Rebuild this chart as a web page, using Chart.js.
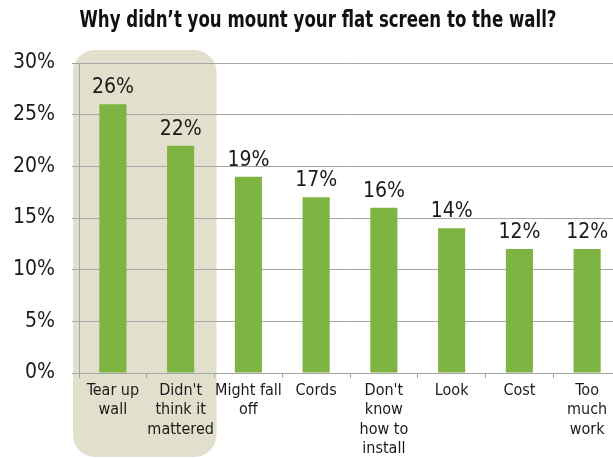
<!DOCTYPE html>
<html>
<head>
<meta charset="utf-8">
<script src="https://cdn.jsdelivr.net/npm/chart.js@4/dist/chart.umd.min.js"></script>
<style>
html,body{margin:0;padding:0;background:#fff;overflow:hidden;width:613px;height:458px;}
#wrap{width:623px;height:458px;position:relative;}
</style>
</head>
<body>
<div id="wrap"><canvas id="c" width="623" height="458"></canvas></div>
<script>
const title = "Why didn\u2019t you mount your flat screen to the wall?";
const categories = [
  ["Tear up","wall"],
  ["Didn't","think it","mattered"],
  ["Might fall","off"],
  ["Cords"],
  ["Don't","know","how to","install"],
  ["Look"],
  ["Cost"],
  ["Too","much","work"]
];
const values = [26, 22, 19, 17, 16, 14, 12, 12];
const yTicks = [0, 5, 10, 15, 20, 25, 30];
const highlighted = [0, 1];

const FONT = '"Liberation Sans Narrow", "DejaVu Sans Condensed", "Liberation Sans", sans-serif';

const extras = {
  id: 'extras',
  beforeDraw(chart) {
    const ctx = chart.ctx;
    const xs = chart.scales.x;
    const cw = (xs.getPixelForValue(1) - xs.getPixelForValue(0));
    const l = xs.getPixelForValue(highlighted[0]) - cw/2 - 6;
    const r = xs.getPixelForValue(highlighted[highlighted.length-1]) + cw/2 + 2;
    const t = 50, b = 457, rad = 22;
    ctx.save();
    ctx.fillStyle = '#e2dfcc';
    ctx.beginPath();
    ctx.roundRect(l, t, r - l, b - t, rad);
    ctx.fill();
    ctx.restore();
  },
  afterDraw(chart) {
    const ctx = chart.ctx;
    const xs = chart.scales.x, ys = chart.scales.y;
    ctx.save();
    // extend gridlines to the right edge
    ctx.strokeStyle = '#a6a6a6';
    ctx.lineWidth = 1;
    yTicks.forEach(v => {
      const y = Math.round(ys.getPixelForValue(v)) + 0.5;
      ctx.beginPath(); ctx.moveTo(chart.chartArea.right, y); ctx.lineTo(chart.width, y); ctx.stroke();
    });
    // small extension of the y axis line below the baseline
    const x0 = chart.chartArea.left;
    ctx.beginPath(); ctx.moveTo(Math.round(x0) + 0.5, chart.chartArea.bottom); ctx.lineTo(Math.round(x0) + 0.5, chart.chartArea.bottom + 5); ctx.stroke();
    // data labels
    ctx.fillStyle = '#1a1a1a';
    ctx.font = '21px ' + FONT;
    ctx.textAlign = 'center';
    ctx.textBaseline = 'alphabetic';
    values.forEach((v, i) => {
      ctx.fillText(v + '%', xs.getPixelForValue(i), ys.getPixelForValue(v) - 11);
    });
    // title
    ctx.font = 'bold 23px ' + FONT;
    ctx.fillStyle = '#111';
    ctx.textBaseline = 'middle';
    const w = ctx.measureText(title).width;
    const sx = 477 / w;
    ctx.translate(318, 21);
    ctx.scale(sx, 1);
    ctx.fillText(title, 0, 0);
    ctx.restore();
  }
};

new Chart(document.getElementById('c'), {
  type: 'bar',
  data: {
    labels: categories,
    datasets: [{
      data: values,
      backgroundColor: '#7db442',
      borderWidth: 0,
      barPercentage: 0.4,
      categoryPercentage: 1.0
    }]
  },
  options: {
    responsive: false,
    animation: false,
    devicePixelRatio: 1,
    layout: { padding: { top: 63, right: 2, left: 0, bottom: 0 } },
    plugins: { legend: { display: false }, title: { display: false }, tooltip: { enabled: false } },
    scales: {
      x: {
        offset: true,
        grid: { offset: true, drawOnChartArea: false, drawTicks: true, tickLength: 5, color: '#a6a6a6' },
        border: { display: true, color: '#a6a6a6' },
        ticks: { color: '#1a1a1a', font: { family: FONT, size: 16, lineHeight: 1.22 }, padding: 3, maxRotation: 0, autoSkip: false },
        afterFit(s) { s.height = 85; }
      },
      y: {
        min: 0, max: 30,
        afterBuildTicks(s) { s.ticks = yTicks.map(v => ({ value: v })); },
        grid: { color: '#a6a6a6', tickLength: 7 },
        border: { display: true, color: '#a6a6a6' },
        ticks: { color: '#1a1a1a', font: { family: FONT, size: 21 }, padding: 17, callback: v => v + '%' },
        afterFit(s) { s.width = 79; }
      }
    }
  },
  plugins: [extras]
});
</script>
</body>
</html>
